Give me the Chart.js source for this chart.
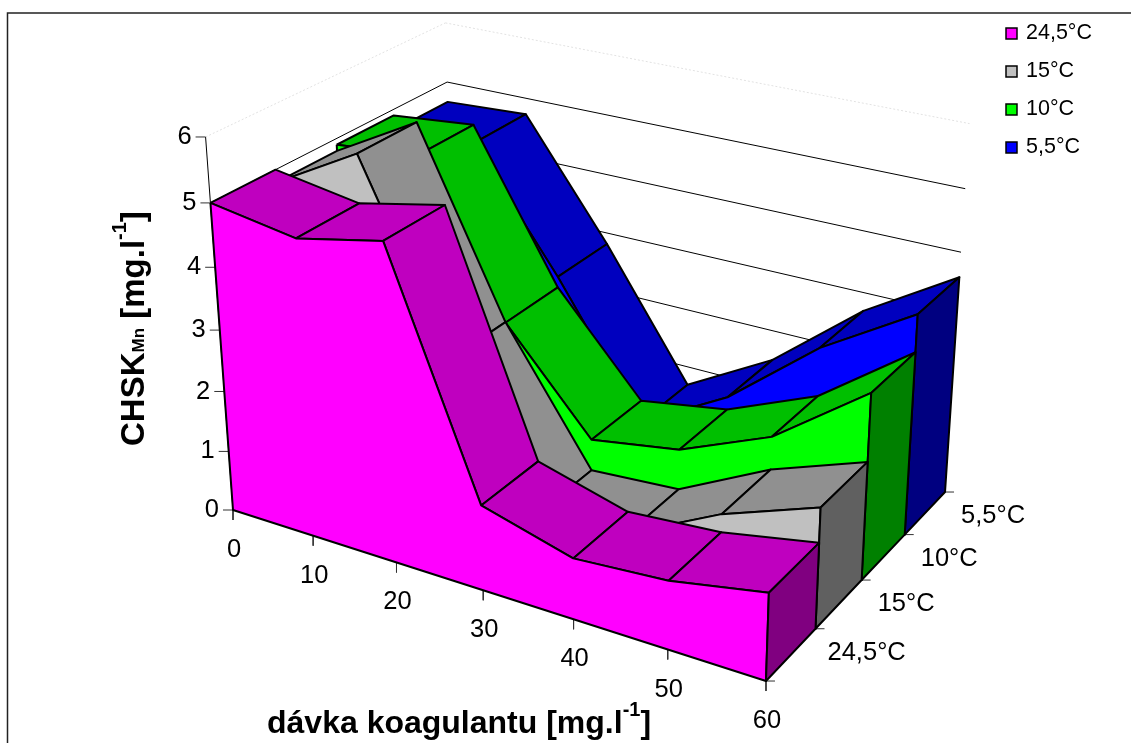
<!DOCTYPE html>
<html>
<head>
<meta charset="utf-8">
<script src="https://cdn.jsdelivr.net/npm/chart.js@4"></script>
<style>
    html, body { margin: 0; padding: 0; background: #fff; overflow: hidden; }
    canvas { display: block; }
</style>
</head>
<body>
<canvas id="myChart" width="1131" height="743"></canvas>
<script>
// values, mg/l
const doses = [0, 10, 20, 30, 40, 50, 60];
const temps = ['24,5°C', '15°C', '10°C', '5,5°C'];
const valuesT245 = [5.0, 4.78, 5.07, 1.38, 0.98, 1.09, 1.37];
const valuesT15 = [4.8, 5.55, 2.64, 0.53, 0.63, 1.38, 1.92];
const valuesT10 = [4.9, 5.03, 2.63, 1.05, 1.29, 1.91, 3.0];
const valuesT55 = [4.66, 4.73, 2.81, 0.68, 1.5, 2.7, 3.6];
const yTicks = [0, 1, 2, 3, 4, 5, 6];

const seriesValues = [valuesT245, valuesT15, valuesT10, valuesT55];
const frontColors = ['#ff00ff', '#c0c0c0', '#00ff00', '#0000ff'];
const topColors = ['#bf00bf', '#909090', '#00bf00', '#0000bf'];
const sideColors = ['#800080', '#606060', '#008000', '#000080'];

const W = 1131, H = 743;
const xMax = 60, yMax = 6;

// perspective of the 3d box: dose, depth (0 front..1 back), value -> plot plane
function project(dose, depth, value) {
    const t = dose / xMax, z = value / yMax;
    const w = 1 - 0.115 * t + 0.13 * depth - 0.0685 * z;
    return {
        x: (233 + 444.9 * t + 281.3 * depth - 41.5 * z) / w,
        y: (510 + 92.7 * t - 103.3 * depth - 382.4 * z) / w
    };
}

const drawList = [];

function addLine(points, color, width, dash) {
    drawList.push({
        data: points,
        showLine: true,
        fill: false,
        borderColor: color,
        borderWidth: width,
        borderDash: dash || [],
        pointRadius: 0,
        tension: 0
    });
}

function addFace(points, color) {
    drawList.push({
        data: points.concat([points[0]]),
        showLine: true,
        fill: 'shape',
        backgroundColor: color,
        borderColor: '#000',
        borderWidth: 2,
        borderJoinStyle: 'round',
        pointRadius: 0,
        tension: 0
    });
}

// frame, cut by the window at right and bottom
addLine([{x: 7.5, y: H}, {x: 7.5, y: 13}, {x: W, y: 13}], '#222', 1.5);

// walls
yTicks.forEach(v => {
    const color = v === yMax ? '#e2e2e2' : '#000';
    const dash = v === yMax ? [2, 2] : [];
    addLine([project(0, 0, v), project(0, 1, v)], color, 1, dash);
    addLine([project(0, 1, v), project(xMax, 1, v)], color, 1, dash);
});

// axes and tick marks
addLine([project(0, 0, 0), project(0, 0, yMax)], '#000', 1);
yTicks.forEach(v => {
    const p = project(0, 0, v);
    addLine([p, {x: p.x - 10, y: p.y}], '#333', 1);
});
doses.forEach(d => {
    const p = project(d, 0, 0);
    addLine([p, {x: p.x, y: p.y + 10}], '#333', 1);
});
for (let i = 0; i <= temps.length; i++) {
    const p = project(xMax, i / temps.length, 0);
    addLine([p, {x: p.x + 9, y: p.y}], '#333', 1);
}

// blocks from the back one to the front one
for (let s = temps.length - 1; s >= 0; s--) {
    const values = seriesValues[s];
    const d0 = s / temps.length, d1 = (s + 1) / temps.length;

    for (let i = 0; i < doses.length - 1; i++) {
        addFace([
            project(doses[i], d0, values[i]),
            project(doses[i + 1], d0, values[i + 1]),
            project(doses[i + 1], d1, values[i + 1]),
            project(doses[i], d1, values[i])
        ], topColors[s]);
    }

    const front = doses.map((d, i) => project(d, d0, values[i]));
    front.push(project(xMax, d0, 0), project(0, d0, 0));
    addFace(front, frontColors[s]);

    const last = values[values.length - 1];
    addFace([
        project(xMax, d0, last),
        project(xMax, d1, last),
        project(xMax, d1, 0),
        project(xMax, d0, 0)
    ], sideColors[s]);
}

function drawRuns(ctx, x, y, angle, runs) {
    ctx.save();
    ctx.translate(x, y);
    ctx.rotate(angle);
    ctx.textAlign = 'left';
    ctx.textBaseline = 'alphabetic';
    let pos = 0;
    runs.forEach(r => {
        ctx.font = 'bold ' + r.size + 'px "Liberation Sans"';
        ctx.fillText(r.text, pos, -(r.rise || 0));
        pos += ctx.measureText(r.text).width;
    });
    ctx.restore();
}

const textPlugin = {
    id: 'texts',
    afterDatasetsDraw(chart) {
        const ctx = chart.ctx;
        const sx = chart.scales.x, sy = chart.scales.y;
        const at = (p) => ({x: sx.getPixelForValue(p.x), y: sy.getPixelForValue(p.y)});

        ctx.save();
        ctx.fillStyle = '#000';
        ctx.font = '25.5px "Liberation Sans"';

        ctx.textAlign = 'right';
        ctx.textBaseline = 'middle';
        yTicks.forEach(v => {
            const p = at(project(0, 0, v));
            ctx.fillText(String(v), p.x - 14, p.y);
        });

        ctx.textAlign = 'center';
        doses.forEach(d => {
            const p = at(project(d, 0, 0));
            ctx.fillText(String(d), p.x + 1, p.y + 40);
        });

        ctx.textAlign = 'left';
        temps.forEach((name, i) => {
            const p = at(project(xMax, (i + 1) / temps.length, 0));
            ctx.fillText(name, p.x + (i === 0 ? 12 : 16), p.y + 24);
        });

        // legend
        ctx.font = '21.5px "Liberation Sans"';
        temps.forEach((name, i) => {
            const y = 33.5 + i * 38;
            ctx.fillStyle = frontColors[i];
            ctx.fillRect(1006, y - 5.5, 11, 11);
            ctx.strokeStyle = '#000';
            ctx.lineWidth = 1.5;
            ctx.strokeRect(1006, y - 5.5, 11, 11);
            ctx.fillStyle = '#000';
            ctx.fillText(name, 1026, y);
        });

        // axis titles
        drawRuns(ctx, 267, 733, 0, [
            {text: 'dávka koagulantu [mg.l', size: 32},
            {text: '-1', size: 20, rise: 17},
            {text: ']', size: 32}
        ]);
        drawRuns(ctx, 143.5, 446, -Math.PI / 2, [
            {text: 'CHSK', size: 33},
            {text: 'Mn', size: 17},
            {text: ' [mg.l', size: 33},
            {text: '-1', size: 20, rise: 18},
            {text: ']', size: 33}
        ]);
        ctx.restore();
    }
};

const config = {
    type: 'scatter',
    // chart.js paints the first dataset last
    data: { datasets: drawList.slice().reverse() },
    options: {
        responsive: false,
        animation: false,
        events: [],
        layout: { padding: 0 },
        plugins: {
            legend: { display: false },
            tooltip: { enabled: false }
        },
        scales: {
            x: { type: 'linear', display: false, min: 0, max: W },
            y: { type: 'linear', display: false, min: 0, max: H, reverse: true }
        }
    },
    plugins: [textPlugin]
};

const myChart = new Chart(document.getElementById('myChart'), config);
</script>
</body>
</html>
